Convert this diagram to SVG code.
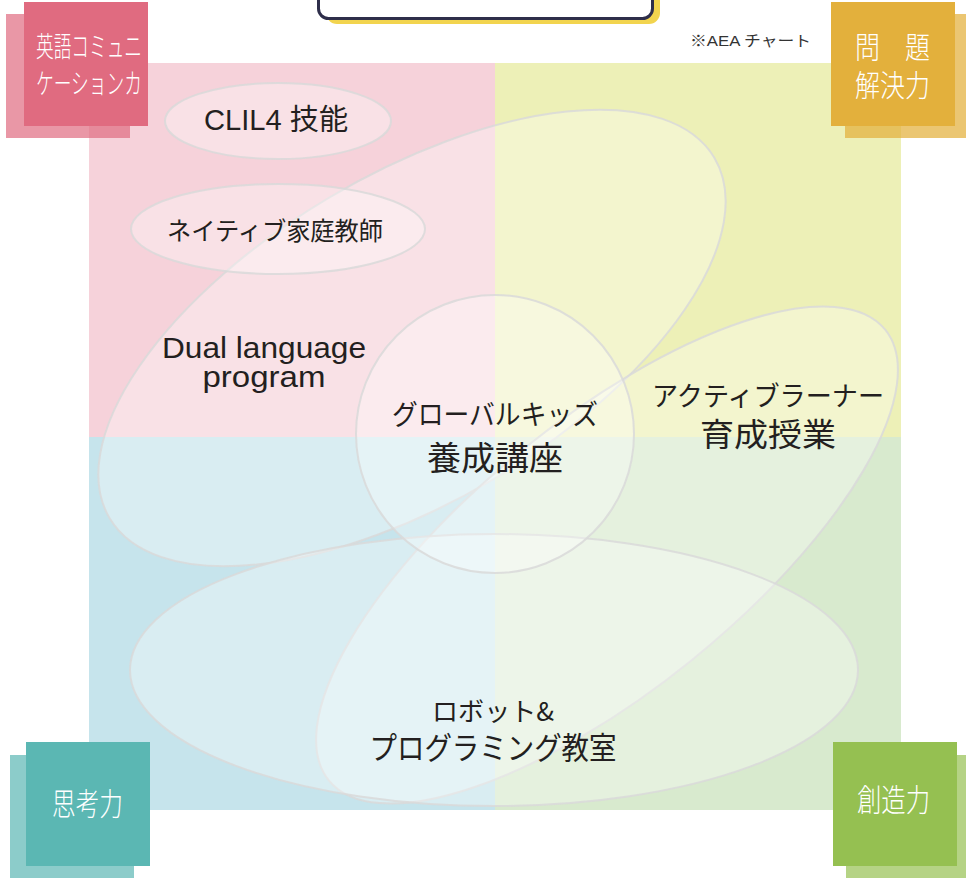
<svg xmlns="http://www.w3.org/2000/svg" width="966" height="878" viewBox="0 0 966 878">
<style>
.shape{fill:#ffffff;fill-opacity:0.33;stroke:#d9d9d9;stroke-opacity:0.85;stroke-width:2}
.lbl{font-family:"Liberation Sans","Noto Sans CJK JP",sans-serif;fill:#231f20;text-anchor:middle}
.jp{font-family:"Noto Sans CJK JP",sans-serif;fill:#231f20;text-anchor:middle}
.corner{font-family:"Noto Sans CJK JP",sans-serif;fill:#ffffff;font-weight:300}
</style>
<rect width="966" height="878" fill="#ffffff"/>
<g id="title-box">
<rect x="326" y="-20" width="334" height="44" rx="11" fill="#f2d44e"/>
<rect x="318.5" y="-20" width="334" height="38.5" rx="10" fill="#ffffff" stroke="#2e2e4a" stroke-width="3"/>
</g>
<g id="quadrants">
<rect x="89" y="63" width="406" height="374" fill="#f6d2da"/>
<rect x="495" y="63" width="406" height="374" fill="#edf0b7"/>
<rect x="89" y="437" width="406" height="373" fill="#c6e4ec"/>
<rect x="495" y="437" width="406" height="373" fill="#d8eace"/>
</g>
<g id="node-dual">
<ellipse class="shape" cx="412" cy="338" rx="352" ry="163" transform="rotate(-30.8 412 338)"/>
<text class="lbl" x="264" y="358" font-size="29" textLength="204" lengthAdjust="spacingAndGlyphs">Dual language</text>
<text class="lbl" x="264" y="387" font-size="29" textLength="123" lengthAdjust="spacingAndGlyphs">program</text>
</g>
<g id="node-active">
<ellipse class="shape" cx="607" cy="555" rx="358" ry="135" transform="rotate(-39 607 555)"/>
<text class="jp" x="768" y="406" font-size="27" textLength="232" lengthAdjust="spacingAndGlyphs">アクティブラーナー</text>
<text class="jp" x="768" y="446" font-size="32" textLength="136" lengthAdjust="spacingAndGlyphs">育成授業</text>
</g>
<g id="node-robot">
<ellipse class="shape" cx="494" cy="670" rx="364" ry="136"/>
<text class="jp" x="493" y="721" font-size="26" textLength="122" lengthAdjust="spacingAndGlyphs">ロボット&amp;</text>
<text class="jp" x="493" y="759" font-size="31" textLength="247" lengthAdjust="spacingAndGlyphs">プログラミング教室</text>
</g>
<g id="node-global">
<circle class="shape" cx="495" cy="434" r="139"/>
<text class="jp" x="495" y="425" font-size="28" textLength="206" lengthAdjust="spacingAndGlyphs">グローバルキッズ</text>
<text class="jp" x="495" y="470" font-size="33" textLength="136" lengthAdjust="spacingAndGlyphs">養成講座</text>
</g>
<g id="node-clil">
<ellipse class="shape" cx="278" cy="121" rx="113" ry="38"/>
<text class="lbl" x="276" y="130" font-size="29" textLength="144" lengthAdjust="spacingAndGlyphs">CLIL4 技能</text>
</g>
<g id="node-native">
<ellipse class="shape" cx="278" cy="229" rx="147" ry="45"/>
<text class="jp" x="275" y="240" font-size="25" textLength="216" lengthAdjust="spacingAndGlyphs">ネイティブ家庭教師</text>
</g>
<g id="note">
<text x="690" y="46" font-size="15" font-family="Liberation Sans,'Noto Sans CJK JP',sans-serif" fill="#333333" textLength="121" lengthAdjust="spacingAndGlyphs">※AEA チャート</text>
</g>
<g id="corner-english">
<rect x="6" y="14" width="124" height="124" fill="#e06b80" fill-opacity="0.7"/>
<rect x="24" y="2" width="124" height="124" fill="#e06b80"/>
<text class="corner" x="36" y="57" font-size="28" textLength="106" lengthAdjust="spacingAndGlyphs">英語コミュニ</text>
<text class="corner" x="36" y="94" font-size="28" textLength="106" lengthAdjust="spacingAndGlyphs">ケーションカ</text>
</g>
<g id="corner-problem">
<rect x="845" y="14" width="124" height="124" fill="#e3b03c" fill-opacity="0.72"/>
<rect x="831" y="2" width="124" height="124" fill="#e3b03c"/>
<text class="corner" x="855" y="58" font-size="30" textLength="75" lengthAdjust="spacingAndGlyphs">問　題</text>
<text class="corner" x="855" y="96" font-size="30" textLength="75" lengthAdjust="spacingAndGlyphs">解決力</text>
</g>
<g id="corner-thinking">
<rect x="10" y="755" width="124" height="124" fill="#5bb7b3" fill-opacity="0.7"/>
<rect x="26" y="742" width="124" height="124" fill="#5bb7b3"/>
<text class="corner" x="52" y="815" font-size="31" textLength="71" lengthAdjust="spacingAndGlyphs">思考力</text>
</g>
<g id="corner-creative">
<rect x="846" y="755" width="124" height="124" fill="#95c051" fill-opacity="0.7"/>
<rect x="833" y="742" width="124" height="124" fill="#95c051"/>
<text class="corner" x="857" y="811" font-size="31" textLength="73" lengthAdjust="spacingAndGlyphs">創造力</text>
</g>
</svg>
